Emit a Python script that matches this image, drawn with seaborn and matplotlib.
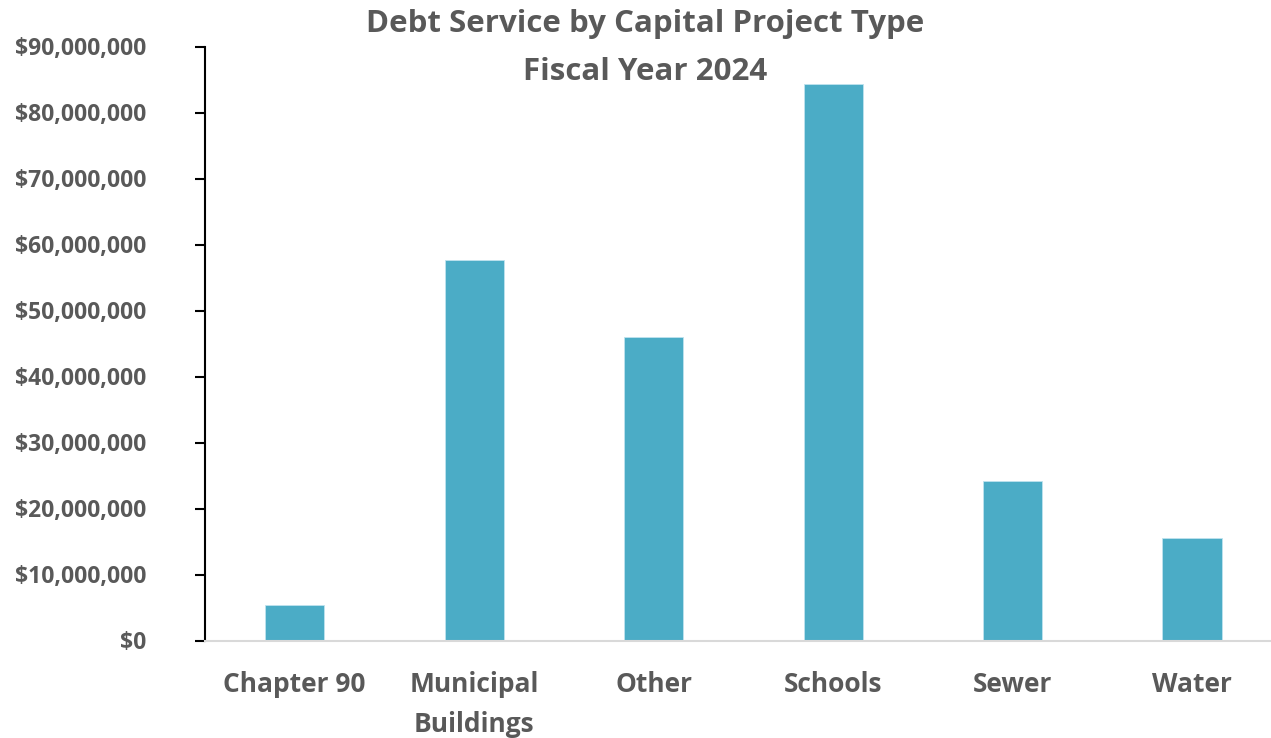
import matplotlib
matplotlib.use("Agg")
import matplotlib.pyplot as plt
import seaborn as sns
import pandas as pd
from matplotlib.ticker import FuncFormatter, MultipleLocator

categories = ["Chapter 90", "Municipal\nBuildings", "Other", "Schools", "Sewer", "Water"]
values = [5_350_000, 57_650_000, 46_000_000, 84_300_000, 24_200_000, 15_600_000]

df = pd.DataFrame({"category": categories, "value": values})

sns.set_theme(style="white")
plt.rcParams["font.family"] = ["Open Sans", "DejaVu Sans"]

text_color = "#595959"
bar_color = "#4BACC6"

fig = plt.figure(figsize=(12.71, 7.38), dpi=100)
ax = fig.add_axes([205 / 1271, 1 - 640.5 / 738, 1 - 205 / 1271, (640.5 - 46.5) / 738])

sns.barplot(data=df, x="category", y="value", color=bar_color, width=0.33,
            saturation=1, ax=ax, edgecolor="#BFE3EE", linewidth=0.6)

ax.set_xlim(-0.5, 5.44)
ax.set_ylim(0, 90_000_000)
ax.yaxis.set_major_locator(MultipleLocator(10_000_000))
ax.yaxis.set_major_formatter(FuncFormatter(lambda v, p: f"${v:,.0f}"))

ax.set_xlabel("")
ax.set_ylabel("")

for s in ["top", "right"]:
    ax.spines[s].set_visible(False)
ax.spines["left"].set_color("black")
ax.spines["left"].set_linewidth(1.5)
ax.spines["bottom"].set_color("#D9D9D9")
ax.spines["bottom"].set_linewidth(1.5)

ax.tick_params(axis="y", which="major", direction="out", length=7, width=1.5,
               color="black", left=True, pad=17, labelsize=16.5, labelcolor=text_color)
ax.tick_params(axis="x", which="major", length=0, pad=22, labelsize=19, labelcolor=text_color)
for lbl in ax.get_yticklabels():
    lbl.set_fontweight("bold")
    lbl.set_x(-25 / 1066)
for lbl in ax.get_xticklabels():
    lbl.set_fontweight("bold")
    lbl.set_linespacing(1.6)

fig.text(645 / 1271, 1 - 24 / 738, "Debt Service by Capital Project Type", ha="center", va="center",
         fontsize=22.5, fontweight="bold", color=text_color)
fig.text(645 / 1271, 1 - 72 / 738, "Fiscal Year 2024", ha="center", va="center",
         fontsize=22.5, fontweight="bold", color=text_color)

fig.savefig("out.png", dpi=100)
